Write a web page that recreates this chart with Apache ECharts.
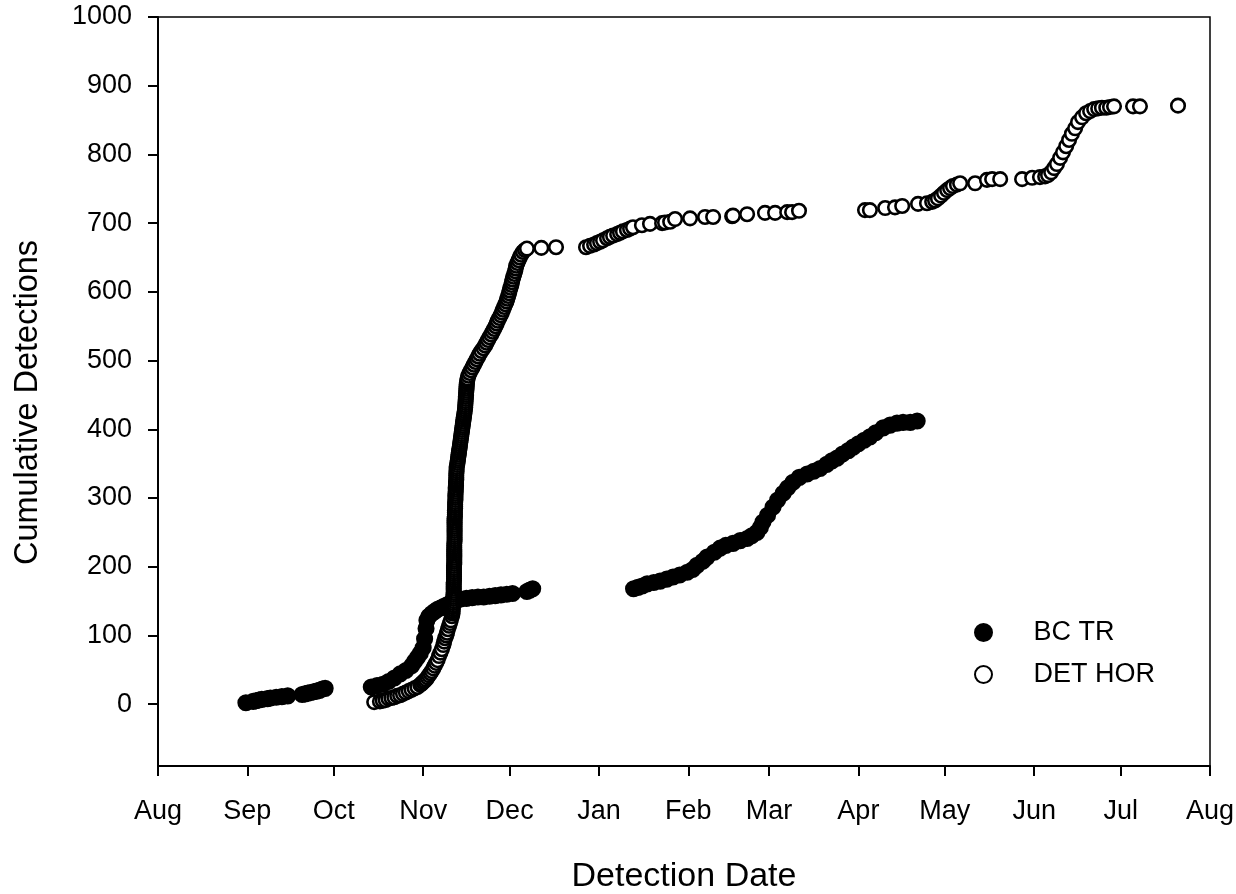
<!DOCTYPE html>
<html>
<head>
<meta charset="utf-8">
<title>Cumulative Detections</title>
<script src="https://cdn.jsdelivr.net/npm/echarts@6/dist/echarts.min.js"></script>
<style>
  html, body { margin: 0; padding: 0; background: #fff; }
  #chart { width: 1236px; height: 894px; }
</style>
</head>
<body>
<div id="chart"></div>
<script>
// x = days after 1 Aug, y = cumulative detections
var monthTicks = [0, 31, 61, 92, 122, 153, 184, 212, 243, 273, 304, 334, 365];
var monthLabels = ['Aug', 'Sep', 'Oct', 'Nov', 'Dec', 'Jan', 'Feb', 'Mar', 'Apr', 'May', 'Jun', 'Jul', 'Aug'];
var countTicks = [0, 100, 200, 300, 400, 500, 600, 700, 800, 900, 1000];

var bcTR = [
  // Sep
  [30.5, 2], [33, 4], [34, 5], [35, 6], [36, 7], [38, 8], [39, 9], [41, 10], [43, 11], [45, 12],
  [50, 14], [51, 15], [52, 16], [53, 17], [54, 18], [55, 19], [56, 20], [57, 22], [58, 23],
  // Oct - Dec
  [74, 25], [76, 27], [78, 29], [80, 33], [82, 38], [84, 44], [86, 49], [88, 56], [89, 62], [90, 68],
  [91, 74], [92, 82], [92.5, 95], [93, 110], [93.3, 122], [94, 128], [95, 132], [96, 135], [97, 138], [98, 140],
  [99, 142], [100, 144], [101, 146], [102, 148], [103, 150], [104, 152], [105, 153], [107, 154], [109, 155], [111, 156],
  [113, 156], [115, 157], [117, 158], [119, 159], [121, 160], [123, 161], [128, 164], [129, 166], [130, 168],
  // Jan - Apr
  [165, 168], [166.5, 170], [168, 172], [169.7, 175], [172, 177], [174.2, 179], [176.5, 182], [178.7, 185], [181, 188], [183.6, 192],
  [185.5, 196], [187, 202], [189, 208], [190.5, 214], [193, 221], [195, 227], [197, 231], [199.5, 234], [202, 238], [204.4, 241],
  [206, 245], [207.8, 250], [209, 257], [209.9, 265], [211.5, 275], [213.4, 287], [215, 297], [216.9, 307], [218.5, 315], [220.3, 323],
  [222.5, 330], [225.2, 335], [227.5, 339], [229.7, 343], [232, 349], [233.8, 354], [235.6, 358], [237.5, 364], [239.5, 369], [241.2, 374],
  [243, 379], [245, 384], [247, 389], [249, 395], [251.6, 402], [254, 406], [256.4, 409], [258.5, 410], [261, 410], [263.4, 412]
];

var detHOR = [
  // Oct - Nov
  [75, 3], [77, 4], [78, 5], [79, 6], [80, 8], [81, 9], [82, 10], [83, 12], [84, 13], [85, 15],
  [86, 17], [87, 19], [88, 21], [89, 23], [90, 25], [91, 28], [91.5, 30], [92, 32], [92.5, 34], [93, 36],
  [93.5, 39], [94, 42], [94.5, 45], [95, 48], [95.5, 52], [96, 56], [96.5, 60], [97, 64], [97.5, 70], [98, 75],
  [98.5, 80], [99, 86], [99.3, 91], [99.6, 96], [100, 100], [100.3, 104], [100.6, 109], [101, 114], [101.3, 118], [101.6, 122],
  [102, 128],
  // steep run mid Nov
  [102.2, 132], [102.2, 135], [102.3, 138], [102.3, 141], [102.4, 144], [102.4, 147], [102.5, 150], [102.5, 153], [102.5, 156], [102.5, 159],
  [102.6, 162], [102.6, 165], [102.6, 168], [102.6, 171], [102.6, 174], [102.6, 177], [102.7, 180], [102.7, 183], [102.7, 186], [102.7, 189],
  [102.7, 192], [102.7, 195], [102.7, 198], [102.7, 201], [102.8, 204], [102.8, 207], [102.8, 210], [102.8, 213], [102.8, 216], [102.8, 219],
  [102.8, 222], [102.8, 225], [102.8, 228], [102.8, 231], [102.8, 234], [102.9, 237], [102.9, 240], [102.9, 243], [102.9, 246], [102.9, 249],
  [102.9, 252], [102.9, 255], [102.9, 258], [102.9, 261], [102.9, 264], [102.9, 267], [102.9, 270], [103.0, 273], [103.0, 276], [103.0, 279],
  [103.0, 282], [103.1, 285], [103.1, 288], [103.1, 291], [103.1, 294], [103.2, 297], [103.2, 300], [103.2, 303], [103.2, 306], [103.3, 309],
  [103.3, 312], [103.3, 315], [103.4, 318], [103.4, 321], [103.4, 324], [103.5, 327], [103.5, 330], [103.5, 333], [103.5, 336], [103.6, 339],
  [103.6, 342], [103.6, 345], [103.8, 348], [103.9, 351], [104.0, 354], [104.1, 357], [104.2, 360], [104.3, 363], [104.4, 366], [104.5, 369],
  [104.6, 372], [104.7, 375], [104.8, 378], [104.9, 381], [105.0, 384], [105.1, 387], [105.2, 390], [105.3, 393], [105.4, 396], [105.5, 399],
  [105.6, 402], [105.7, 405], [105.8, 408], [105.9, 411], [106.0, 414], [106.1, 417], [106.2, 420], [106.3, 423], [106.4, 426], [106.5, 429],
  [106.6, 432], [106.6, 435], [106.7, 438], [106.7, 441], [106.8, 444], [106.8, 447], [106.9, 450], [106.9, 453], [107.0, 456], [107.0, 459],
  [107.1, 462], [107.1, 465], [107.2, 468], [107.3, 471], [107.4, 474],
  // late Nov - Dec
  [107.7, 478], [108.1, 482], [108.6, 486], [109.1, 490], [109.6, 494], [110.1, 498], [110.6, 502], [111.1, 506], [111.6, 510], [112.2, 514],
  [112.9, 518], [113.5, 522], [114.0, 526], [114.5, 530], [115.0, 534], [115.6, 538], [116.1, 542], [116.6, 546], [117.1, 550], [117.5, 554],
  [117.9, 558], [118.4, 562], [118.9, 566], [119.3, 570], [119.7, 574], [120.1, 578], [120.5, 582], [120.9, 586], [121.2, 590], [121.5, 594],
  [121.8, 598], [122.0, 602], [122.3, 606], [122.6, 610], [122.8, 614], [123.0, 618], [123.3, 622], [123.6, 626], [123.9, 630], [124.1, 634],
  [124.3, 638], [124.7, 642], [125.1, 646], [125.5, 650], [126.0, 654], [126.6, 658], [127.3, 661], [128.0, 663], [133.0, 664], [138.1, 665],
  // Jan - Mar
  [148.5, 665], [149.9, 667], [151.3, 669], [152.3, 671], [153.4, 673], [154.4, 675], [155.8, 678], [156.8, 680], [157.9, 682], [159.3, 684],
  [160.3, 686], [161.3, 688], [162.7, 690], [163.8, 692], [164.8, 694], [167.9, 697], [170.7, 699], [174.9, 700], [175.9, 701], [177.7, 702],
  [179.4, 706], [184.6, 707], [189.8, 709], [192.6, 709], [199.2, 710], [199.5, 711], [204.4, 713], [210.6, 715], [214.1, 715], [218.3, 716],
  [220, 716], [222.4, 718],
  // Apr - Jul
  [245.3, 719], [247, 719], [252.3, 722], [255.7, 723], [258.2, 725], [263.7, 728], [266.8, 729], [268.6, 731], [269.6, 733], [270.6, 736],
  [271.7, 740], [272.7, 744], [273.8, 748], [274.8, 751], [275.8, 754], [277.2, 756], [278.3, 758], [283.5, 758], [287.6, 763], [289.4, 764],
  [292.2, 764], [299.8, 764], [303.3, 766], [306, 767], [307.8, 768], [308.8, 770], [309.9, 774], [310.9, 780], [311.9, 786], [313, 795],
  [314, 803], [315.1, 812], [316.1, 821], [317.1, 830], [318.2, 838], [319.2, 847], [320.6, 854], [322, 860], [323.4, 863], [324.8, 866],
  [326.2, 867], [327.5, 868], [329, 868], [330.3, 869], [331.7, 870], [338.3, 870], [340.7, 870], [353.9, 871]
];

var fontFamily = '"Liberation Sans", Arial, sans-serif';

var chart = echarts.init(document.getElementById('chart'), null, { renderer: 'canvas' });

chart.setOption({
  animation: false,
  backgroundColor: '#fff',
  textStyle: { fontFamily: fontFamily, color: '#000' },
  grid: {
    left: 158, right: 26, top: 17, bottom: 128,
    show: true, borderColor: '#000', borderWidth: 1.5,
    outerBoundsMode: 'none'
  },
  legend: {
    orient: 'vertical',
    left: 974,
    top: 619,
    padding: 0,
    itemWidth: 90,
    itemHeight: 17,
    itemGap: 15,
    textStyle: { fontSize: 27, color: '#000', lineHeight: 26, fontFamily: fontFamily },
    data: ['BC TR', 'DET HOR']
  },
  xAxis: {
    type: 'value',
    min: 0,
    max: 365,
    name: 'Detection Date',
    nameLocation: 'middle',
    nameGap: 94,
    nameTextStyle: { fontSize: 34, color: '#000', fontFamily: fontFamily },
    axisLine: { onZero: false, lineStyle: { color: '#000', width: 2 } },
    axisTick: { customValues: monthTicks, length: 10, lineStyle: { color: '#000', width: 2 } },
    axisLabel: {
      customValues: monthTicks,
      margin: 32,
      fontSize: 27,
      color: '#000',
      formatter: function (v) {
        return monthLabels[monthTicks.indexOf(v)];
      }
    },
    splitLine: { show: false }
  },
  yAxis: {
    type: 'value',
    min: -90,
    max: 1000,
    name: 'Cumulative Detections',
    nameLocation: 'middle',
    nameGap: 113,
    nameTextStyle: { fontSize: 32.5, color: '#000', fontFamily: fontFamily, padding: [0, 22, 0, 0] },
    axisLine: { show: true, onZero: false, lineStyle: { color: '#000', width: 2 } },
    axisTick: { show: true, customValues: countTicks, length: 10, lineStyle: { color: '#000', width: 2 } },
    axisLabel: {
      customValues: countTicks,
      margin: 26,
      fontSize: 27,
      color: '#000',
      formatter: function (v) { return String(v); }
    },
    splitLine: { show: false }
  },
  series: [
    {
      name: 'BC TR',
      type: 'scatter',
      data: bcTR,
      symbol: 'circle',
      symbolSize: 14.5,
      itemStyle: { color: '#000', borderColor: '#000', borderWidth: 2.6, opacity: 1 },
      emphasis: { disabled: true },
      z: 2
    },
    {
      name: 'DET HOR',
      type: 'scatter',
      data: detHOR,
      symbol: 'circle',
      symbolSize: 13.5,
      itemStyle: { color: '#fff', borderColor: '#000', borderWidth: 2.6, opacity: 1 },
      emphasis: { disabled: true },
      z: 3
    }
  ]
});
</script>
</body>
</html>
